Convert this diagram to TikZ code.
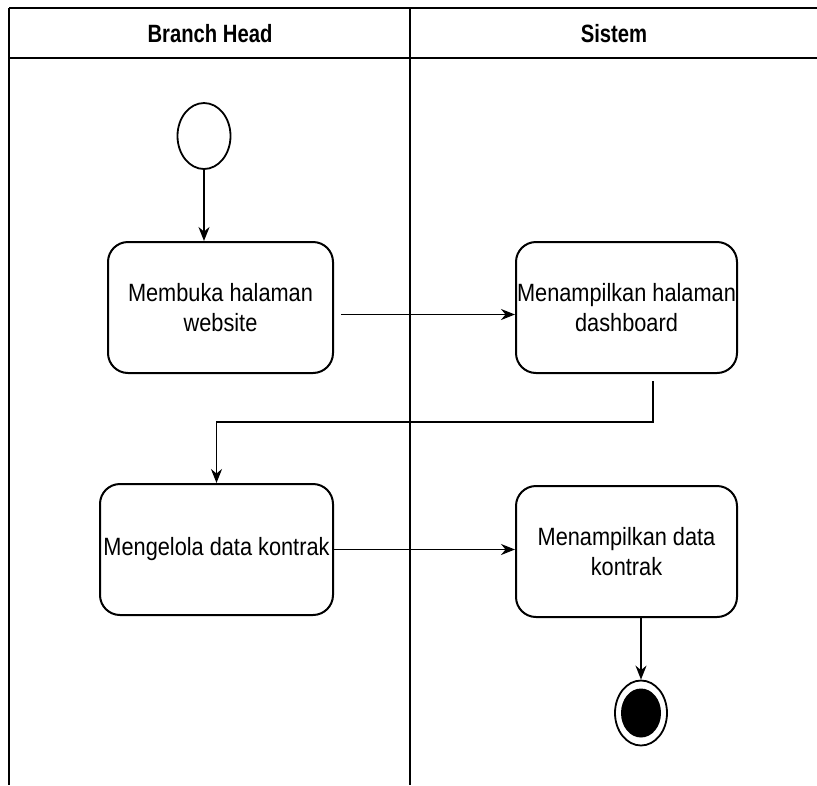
\documentclass[tikz,border=0pt]{standalone}
\usepackage{fontspec}
\setmainfont{Liberation Sans}[FakeStretch=0.87]
\newfontfamily\hdrfont{Liberation Sans}[FakeStretch=0.81]
\usetikzlibrary{arrows.meta,shapes.geometric,calc}
\begin{document}
\begin{tikzpicture}[x=1pt,y=-1pt,
  lane/.style={line width=2pt,black},
  act/.style={draw,line width=2pt,rounded corners=20pt,align=center,
    font=\fontsize{25}{30}\selectfont,inner sep=0pt},
  hdr/.style={font=\hdrfont\bfseries\fontsize{25}{28}\selectfont},
  arr/.style={line width=1.8pt,-{Stealth[length=14pt,width=11pt]}},
  startnode/.style={draw,ellipse,line width=1.8pt,minimum width=53pt,minimum height=66pt,inner sep=0pt},
]
\useasboundingbox (0,0) rectangle (817,785);
% swimlanes
\draw[lane] (9,8) -- (817,8);
\draw[lane] (9,58) -- (817,58);
\draw[lane] (9,8) -- (9,785);
\draw[lane] (410,8) -- (410,785);
\node[hdr] (h1) at (210,34) {Branch Head};
\node[hdr] (h2) at (614,34) {Sistem};
% nodes
\node[startnode] (start) at (204,136) {};
\node[act,minimum width=225pt,minimum height=131pt] (b1) at (220.5,307.5) {Membuka halaman\\website};
\node[act,minimum width=221pt,minimum height=131pt] (b2) at (626.5,307.5) {Menampilkan halaman\\dashboard};
\node[act,minimum width=233pt,minimum height=131pt] (b3) at (216.5,549.5) {Mengelola data kontrak};
\node[act,minimum width=221pt,minimum height=131pt] (b4) at (626.5,551.5) {Menampilkan data\\kontrak};
\node[draw,ellipse,line width=1.8pt,minimum width=52pt,minimum height=65pt,inner sep=0pt] (end) at (641,713) {};
\node[ellipse,fill=black,minimum width=40pt,minimum height=49pt,inner sep=0pt] (endin) at (end.center) {};
\coordinate (k) at (653,422);
% connectors
\draw[arr] (start.south) -- (start.south |- b1.north);
\draw[arr] ([xshift=7pt,yshift=-7pt]b1.east) -- ([yshift=-7pt]b2.west);
\draw[arr] ([xshift=26.5pt,yshift=-7pt]b2.south) -- (k) -| (b3.north);
\draw[arr] (b3.east) -- (b3.east -| b4.west);
\draw[arr] ([xshift=14.5pt]b4.south) -- (end.north);
\end{tikzpicture}
\end{document}
